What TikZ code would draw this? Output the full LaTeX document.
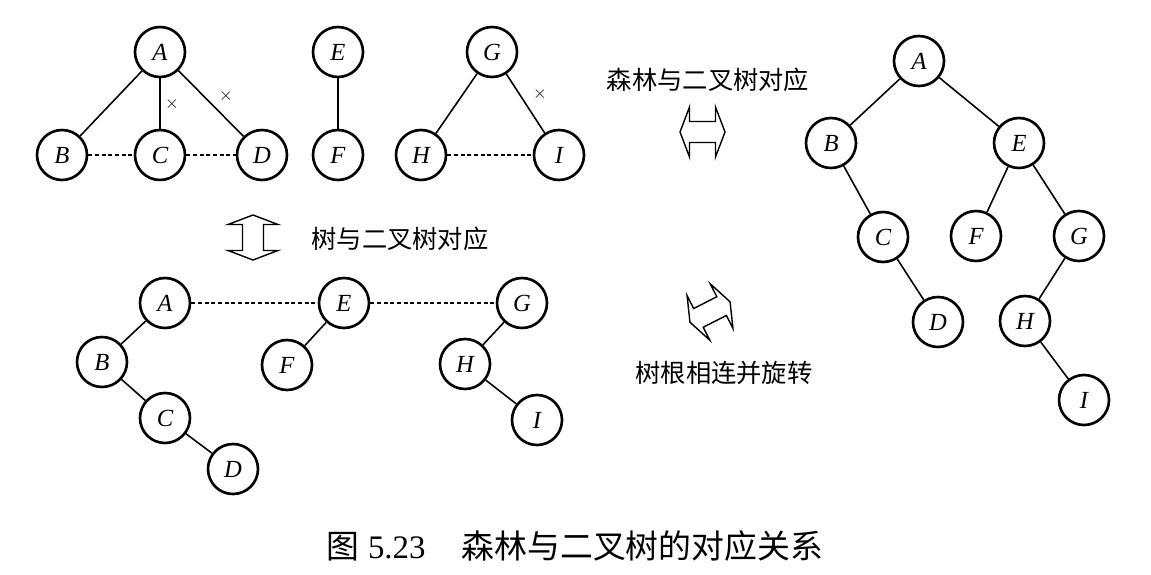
\documentclass[tikz,border=0pt]{standalone}
\usepackage{fontspec}
\setmainfont{Liberation Serif}
\newfontfamily\cjk{Noto Sans CJK SC}
\usetikzlibrary{positioning}

\tikzset{
  vertex/.style={circle, draw, line width=1.5pt, minimum size=1.0cm,
    inner sep=0pt, font=\fontsize{14}{14}\selectfont\itshape},
  link/.style={line width=0.9pt},
  virt/.style={line width=0.6pt, dash pattern=on 2.2pt off 1.6pt},
  cut/.style={font=\fontsize{10}{10}\selectfont},
  note/.style={font=\fontsize{14.4}{14.4}\selectfont\cjk},
  hollow/.pic={
    \draw[line width=0.8pt, line join=miter]
      (-22.5,0) -- (-13,25) -- (-13,10.5) -- (13,10.5) -- (13,25)
      -- (22.5,0) -- (13,-25) -- (13,-10.5) -- (-13,-10.5)
      -- (-13,-25) -- cycle;
  }
}

\begin{document}
\begin{tikzpicture}[x=0.02cm, y=-0.02cm]
  \useasboundingbox (0,0) rectangle (1151,574);

  % forest
  \node[vertex] (tA) at (160,52) {A};
  \node[vertex] (tB) at (62,155) {B};
  \node[vertex] (tC) at (160,155) {C};
  \node[vertex] (tD) at (262,155) {D};
  \node[vertex] (tE) at (338,52) {E};
  \node[vertex] (tF) at (338,155) {F};
  \node[vertex] (tG) at (492,52) {G};
  \node[vertex] (tH) at (421,155) {H};
  \node[vertex] (tI) at (559,155) {I};
  \draw[link] (tA) -- (tB);
  \draw[link] (tA) -- (tC);
  \draw[link] (tA) -- (tD);
  \draw[link] (tE) -- (tF);
  \draw[link] (tG) -- (tH);
  \draw[link] (tG) -- (tI);
  \draw[virt] (tB) -- (tC);
  \draw[virt] (tC) -- (tD);
  \draw[virt] (tH) -- (tI);
  \node[cut] (x1) at (172,104) {$\times$};
  \node[cut] (x2) at (226,96) {$\times$};
  \node[cut] (x3) at (540,94) {$\times$};

  \pic[rotate=90] at (253,237.5) {hollow};
  \node[note] (n1) at (400,239) {树与二叉树对应};

  % each tree as a binary tree
  \node[vertex] (bA) at (165,303) {A};
  \node[vertex] (bB) at (102,362) {B};
  \node[vertex] (bC) at (165,418) {C};
  \node[vertex] (bD) at (233,469) {D};
  \node[vertex] (bE) at (344,303) {E};
  \node[vertex] (bF) at (287,365) {F};
  \node[vertex] (bG) at (522,303) {G};
  \node[vertex] (bH) at (465,364) {H};
  \node[vertex] (bI) at (537,420) {I};
  \draw[link] (bA) -- (bB);
  \draw[link] (bB) -- (bC);
  \draw[link] (bC) -- (bD);
  \draw[link] (bE) -- (bF);
  \draw[link] (bG) -- (bH);
  \draw[link] (bH) -- (bI);
  \draw[virt] (bA) -- (bE);
  \draw[virt] (bE) -- (bG);

  % middle
  \node[note] (n2) at (708,80) {森林与二叉树对应};
  \pic at (702.5,132) {hollow};
  \pic[rotate=27] at (710,312) {hollow};
  \node[note] (n3) at (724,373) {树根相连并旋转};

  % binary tree
  \node[vertex] (rA) at (919,61) {A};
  \node[vertex] (rB) at (831,143) {B};
  \node[vertex] (rE) at (1019,143) {E};
  \node[vertex] (rC) at (883,237) {C};
  \node[vertex] (rF) at (976,236) {F};
  \node[vertex] (rG) at (1079,236) {G};
  \node[vertex] (rD) at (938,322) {D};
  \node[vertex] (rH) at (1025,321) {H};
  \node[vertex] (rI) at (1084,400) {I};
  \draw[link] (rA) -- (rB);
  \draw[link] (rA) -- (rE);
  \draw[link] (rB) -- (rC);
  \draw[link] (rC) -- (rD);
  \draw[link] (rE) -- (rF);
  \draw[link] (rE) -- (rG);
  \draw[link] (rG) -- (rH);
  \draw[link] (rH) -- (rI);

  \node[font=\fontsize{18.7}{18.7}\selectfont] (cap) at (575,546)
    {{\cjk 图}~5.23\hspace{1.1em}{\cjk 森林与二叉树的对应关系}};
\end{tikzpicture}
\end{document}
